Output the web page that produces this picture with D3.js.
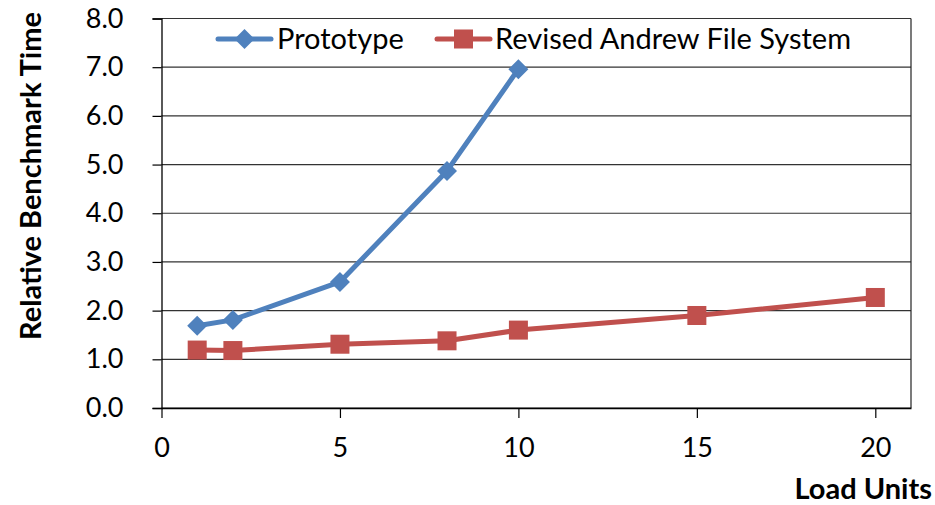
<!DOCTYPE html>
<html>
<head>
<meta charset="utf-8">
<script src="https://cdn.jsdelivr.net/npm/d3@7"></script>
<style>
  html, body { margin: 0; padding: 0; background: #fff; }
  svg { display: block; }
  text { font-family: Lato, "Open Sans", sans-serif; fill: #000; }
</style>
</head>
<body>
<svg id="chart" width="935" height="505"></svg>
<script>
// Load units and relative benchmark time for each system
const prototypeLoad = [1, 2, 5, 8, 10];
const prototypeTime = [1.69, 1.81, 2.59, 4.87, 6.96];
const andrewLoad = [1, 2, 5, 8, 10, 15, 20];
const andrewTime = [1.19, 1.18, 1.31, 1.38, 1.60, 1.90, 2.27];
const xTicks = [0, 5, 10, 15, 20];
const yTicks = [0, 1, 2, 3, 4, 5, 6, 7, 8];
const seriesNames = ["Prototype", "Revised Andrew File System"];

const svg = d3.select("#chart");
const margin = { left: 161.5, right: 24, top: 18.5, bottom: 97 };
const W = 935, H = 505;

const x = d3.scaleLinear().domain([0, 21]).range([margin.left, W - margin.right]);
const y = d3.scaleLinear().domain([0, 8]).range([H - margin.bottom, margin.top]);

const blue = "#4F81BD", red = "#C0504D";

// Horizontal gridlines
svg.append("g")
  .selectAll("line")
  .data(yTicks)
  .join("line")
  .attr("x1", x(0)).attr("x2", x(21))
  .attr("y1", d => y(d)).attr("y2", d => y(d))
  .attr("stroke", "#333").attr("stroke-width", 1.2);

// Plot frame on right side
svg.append("line")
  .attr("x1", x(21)).attr("x2", x(21))
  .attr("y1", y(8)).attr("y2", y(0))
  .attr("stroke", "#222").attr("stroke-width", 1.2);

// Y axis
const yAxis = svg.append("g")
  .attr("transform", `translate(${x(0)},0)`)
  .call(d3.axisLeft(y).tickValues(yTicks).tickFormat(d3.format(".1f")).tickSize(9).tickPadding(29));
yAxis.select(".domain").attr("stroke", "#000").attr("stroke-width", 1.3);
yAxis.selectAll(".tick line").attr("stroke", "#000").attr("stroke-width", 1.2);
yAxis.selectAll("text").attr("font-size", 27).attr("font-family", "Lato, sans-serif").attr("fill", "#000");

// X axis
const xAxis = svg.append("g")
  .attr("transform", `translate(0,${y(0)})`)
  .call(d3.axisBottom(x).tickValues(xTicks).tickFormat(d3.format("d")).tickSize(10).tickSizeOuter(0).tickPadding(20));
xAxis.select(".domain").attr("stroke", "#000").attr("stroke-width", 1.3);
xAxis.selectAll(".tick line").attr("stroke", "#000").attr("stroke-width", 1.2);
xAxis.selectAll("text").attr("font-size", 27).attr("font-family", "Lato, sans-serif").attr("fill", "#000");

// Axis titles
svg.append("text")
  .attr("transform", `translate(41,176) rotate(-90)`)
  .attr("text-anchor", "middle")
  .attr("font-size", 29).attr("font-weight", "bold")
  .text("Relative Benchmark Time");

svg.append("text")
  .attr("x", 932).attr("y", 499)
  .attr("text-anchor", "end")
  .attr("font-size", 29).attr("font-weight", "bold")
  .text("Load Units");

const line = d3.line().x(d => x(d[0])).y(d => y(d[1]));

const protoPts = prototypeLoad.map((v, i) => [v, prototypeTime[i]]);
const andrewPts = andrewLoad.map((v, i) => [v, andrewTime[i]]);

function drawDiamond(g, cx, cy, s) {
  g.append("path")
    .attr("d", `M${cx},${cy - s}L${cx + s},${cy}L${cx},${cy + s}L${cx - s},${cy}Z`)
    .attr("fill", blue);
}
function drawSquare(g, cx, cy, s) {
  g.append("rect")
    .attr("x", cx - s).attr("y", cy - s)
    .attr("width", 2 * s).attr("height", 2 * s)
    .attr("fill", red);
}

// Series lines and markers
const gA = svg.append("g");
gA.append("path").datum(andrewPts)
  .attr("d", line).attr("fill", "none")
  .attr("stroke", red).attr("stroke-width", 5).attr("stroke-linejoin", "round");
andrewPts.forEach(p => drawSquare(gA, x(p[0]), y(p[1]), 9.5));

const gP = svg.append("g");
gP.append("path").datum(protoPts)
  .attr("d", line).attr("fill", "none")
  .attr("stroke", blue).attr("stroke-width", 5).attr("stroke-linejoin", "round");
protoPts.forEach(p => drawDiamond(gP, x(p[0]), y(p[1]), 10));

// Legend
const legY = 39;
const leg = svg.append("g");
leg.append("line").attr("x1", 218).attr("x2", 271).attr("y1", legY).attr("y2", legY)
  .attr("stroke", blue).attr("stroke-width", 5).attr("stroke-linecap", "round");
drawDiamond(leg, 244.5, legY, 10);
leg.append("text").attr("x", 277).attr("y", 48.5).attr("font-size", 29).text(seriesNames[0]);

leg.append("line").attr("x1", 437).attr("x2", 490).attr("y1", legY).attr("y2", legY)
  .attr("stroke", red).attr("stroke-width", 5).attr("stroke-linecap", "round");
drawSquare(leg, 463.5, legY, 9.5);
leg.append("text").attr("x", 495).attr("y", 48.5).attr("font-size", 29).text(seriesNames[1]);
</script>
</body>
</html>
